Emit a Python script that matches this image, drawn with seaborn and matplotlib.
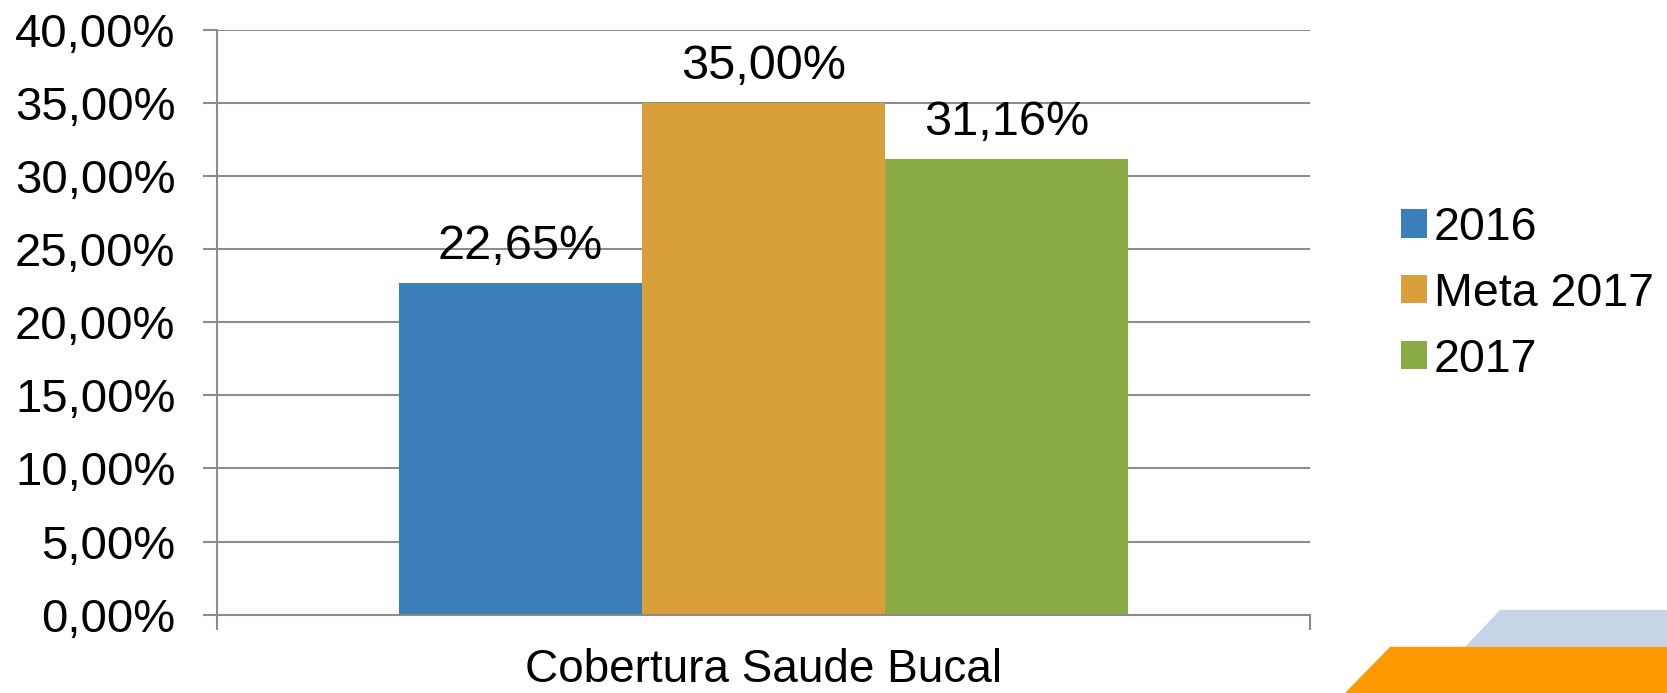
import numpy as np
import pandas as pd
import seaborn as sns
import matplotlib.pyplot as plt
from matplotlib.ticker import FuncFormatter, FixedLocator
from matplotlib.patches import Polygon

categoria = ['Cobertura Saude Bucal']
series = ['2016', 'Meta 2017', '2017']
valores = [0.2265, 0.35, 0.3116]
cores = ['#3A7FB9', '#D89F3A', '#8AAB45']

df = pd.DataFrame({'categoria': categoria * len(series),
                   'serie': series,
                   'valor': valores})

sns.set_style('white')
plt.rcParams['font.family'] = ['Liberation Sans', 'DejaVu Sans']
plt.rcParams['text.color'] = 'black'
plt.rcParams['xtick.labelcolor'] = 'black'
plt.rcParams['ytick.labelcolor'] = 'black'

fig = plt.figure(figsize=(16.67, 6.93), dpi=100)
ax = fig.add_axes([0.1302, 0.1130, 0.6556, 0.8444])

sns.barplot(data=df, x='categoria', y='valor', hue='serie', palette=cores,
            width=0.667, saturation=1, linewidth=0, ax=ax)

def pct(v, pos=None):
    return f'{v*100:.2f}%'.replace('.', ',')

ax.set_ylim(0, 0.40)
ax.set_xlim(-0.5, 0.5)
ax.yaxis.set_major_locator(FixedLocator(np.arange(0, 0.401, 0.05)))
ax.yaxis.set_major_formatter(FuncFormatter(pct))
ax.grid(axis='y', color='#8c8c8c', linewidth=1.5)
ax.set_axisbelow(True)
for s in ['top', 'right']:
    ax.spines[s].set_visible(False)
for s in ['left', 'bottom']:
    ax.spines[s].set_color('#8c8c8c')
    ax.spines[s].set_linewidth(1.5)

ax.tick_params(axis='y', labelsize=34, length=10, width=1.5, color='#8c8c8c',
               direction='out', left=True, pad=20)
ax.tick_params(axis='x', which='major', labelsize=33, length=0, pad=24)
ax.set_xticks([-0.5, 0.5], minor=True)
ax.tick_params(axis='x', which='minor', length=11, width=1.5, color='#8c8c8c',
               bottom=True)
ax.set_xlabel('')
ax.set_ylabel('')

for c in ax.containers:
    ax.bar_label(c, labels=[pct(v) for v in c.datavalues], fontsize=35,
                 padding=10, color='black')

ax.legend(title=None, frameon=False, fontsize=33.5, loc='center left',
          bbox_to_anchor=(0.8405, 0.576), bbox_transform=fig.transFigure,
          handlelength=0.55, handleheight=0.55, handletextpad=0.15,
          labelspacing=0.47, borderaxespad=0, borderpad=0)

# decoracao canto inferior direito
W, H = 1667, 693
def fp(pts):
    return [(x / W, 1 - y / H) for x, y in pts]
fig.patches.append(Polygon(fp([(1500, 610), (W, 610), (W, 648), (1464, 648)]),
                           closed=True, color='#C7D3E6', transform=fig.transFigure))
fig.patches.append(Polygon(fp([(1390, 647), (W, 647), (W, H), (1345, H)]),
                           closed=True, color='#FF9900', transform=fig.transFigure))

fig.savefig('out.png', dpi=100)
